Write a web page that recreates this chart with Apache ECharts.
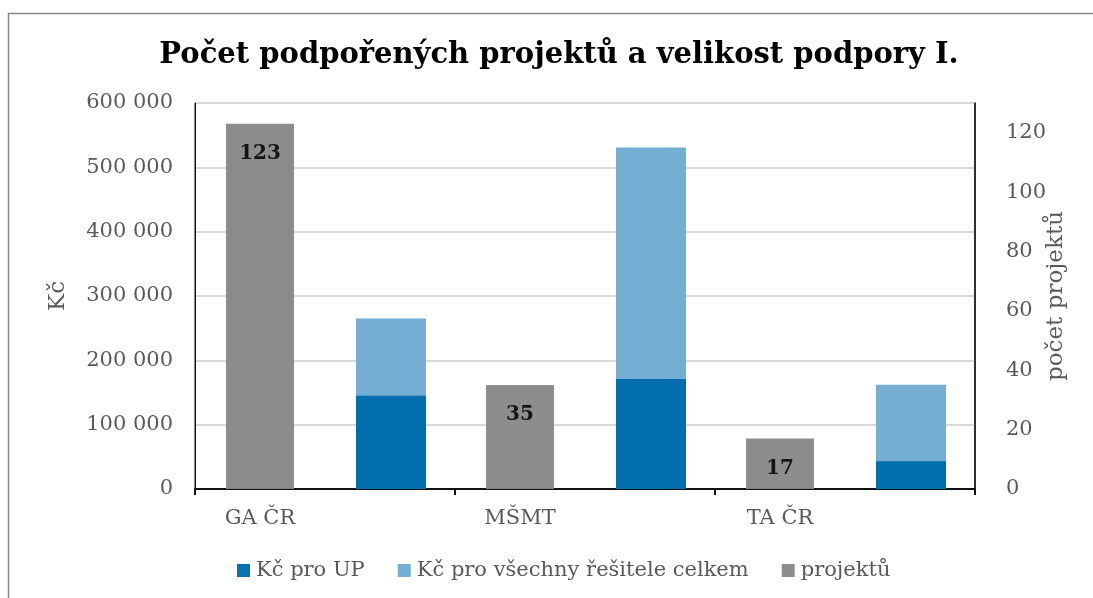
<!DOCTYPE html>
<html>
<head>
<meta charset="utf-8">
<script src="https://cdn.jsdelivr.net/npm/echarts@6/dist/echarts.min.js"></script>
<style>
  html, body { margin: 0; padding: 0; background: #fff; }
  #chart { width: 1093px; height: 598px; }
</style>
</head>
<body>
<div id="chart"></div>
<script>
	// kategorie - kazda agentura ma dva sloupce (pocet projektu, castky)
	var categories = ['GA ČR', '', 'MŠMT', '', 'TA ČR', ''];
	var kcProUP = [null, 145000, null, 171000, null, 43000];
	var kcCelkem = [null, 265000, null, 531000, null, 162000];
	var projektu = [123, null, 35, null, 17, null];
	var kcTicks = [0, 600000, 100000]; // min, max, krok
	var projTicks = [0, 130, 20];

	var serif = 'DejaVu Serif';
	var textGray = '#595959';

	var dom = document.getElementById('chart');
	var myChart = echarts.init(dom);

	function fmtKc(v) {
		return String(v).replace(/\B(?=(\d{3})+(?!\d))/g, ' ');
	}

	var option = {
		animation: false,
		graphic: [{
			type: 'rect',
			shape: { x: 8.5, y: 13.5, width: 1200, height: 700 },
			style: { fill: 'none', stroke: '#888', lineWidth: 1.5 },
			silent: true
		}],
		title: {
			text: 'Počet podpořených projektů a velikost podpory I.',
			left: 554,
			textAlign: 'center',
			top: 36,
			textStyle: { fontFamily: serif, fontWeight: 'bold', fontSize: 29, color: '#000' }
		},
		legend: {
			data: ['Kč pro UP', 'Kč pro všechny řešitele celkem', 'projektů'],
			bottom: 12,
			left: 232,
			itemWidth: 13,
			itemHeight: 13,
			itemGap: 33,
			icon: 'rect',
			textStyle: { fontFamily: serif, fontSize: 21, color: textGray, padding: [0, 0, 0, 1] }
		},
		grid: {
			left: 195, right: 118, top: 103, bottom: 109,
			show: true, borderColor: '#111', borderWidth: 1,
			containLabel: false
		},
		xAxis: {
			type: 'category',
			data: categories,
			axisLine: { lineStyle: { color: '#111', width: 2 } },
			axisTick: { show: true, interval: 1, length: 6, lineStyle: { color: '#111', width: 2 } },
			axisLabel: { interval: 1, fontFamily: serif, fontSize: 21, color: textGray, margin: 19 }
		},
		yAxis: [{
			type: 'value',
			min: kcTicks[0], max: kcTicks[1], interval: kcTicks[2],
			name: 'Kč',
			nameLocation: 'middle',
			nameRotate: 90,
			nameGap: 125,
			nameMoveOverlap: false,
			nameTextStyle: { fontFamily: serif, fontSize: 23, color: textGray },
			axisLine: { show: true, lineStyle: { color: '#111', width: 1 } },
			axisTick: { show: false },
			axisLabel: { fontFamily: serif, fontSize: 21, color: textGray, margin: 22, formatter: fmtKc },
			splitLine: { lineStyle: { color: '#d9d9d9', width: 2 } }
		}, {
			type: 'value',
			min: projTicks[0], max: projTicks[1], interval: projTicks[2],
			name: 'počet projektů',
			nameLocation: 'middle',
			nameRotate: 90,
			nameGap: 70,
			nameMoveOverlap: false,
			nameTextStyle: { fontFamily: serif, fontSize: 23, color: textGray },
			axisLine: { show: true, lineStyle: { color: '#111', width: 1.5 } },
			axisTick: { show: false },
			axisLabel: { fontFamily: serif, fontSize: 21, color: textGray, margin: 31, showMaxLabel: false },
			splitLine: { show: false }
		}],
		series: [{
			name: 'Kč pro všechny řešitele celkem',
			type: 'bar',
			data: kcCelkem,
			barWidth: 70,
			barGap: '-100%',
			itemStyle: { color: '#6eabd0', opacity: 0.96 }
		}, {
			name: 'Kč pro UP',
			type: 'bar',
			data: kcProUP,
			barWidth: 70,
			barGap: '-100%',
			itemStyle: { color: '#006cab', opacity: 0.97 }
		}, {
			name: 'projektů',
			type: 'bar',
			yAxisIndex: 1,
			data: projektu,
			barWidth: 68,
			barGap: '-100%',
			itemStyle: { color: '#88888a', opacity: 0.96 },
			label: {
				show: true,
				position: 'insideTop',
				distance: 20,
				fontFamily: serif,
				fontWeight: 'bold',
				fontSize: 20,
				color: '#111'
			}
		}]
	};
	myChart.setOption(option);
</script>
</body>
</html>
